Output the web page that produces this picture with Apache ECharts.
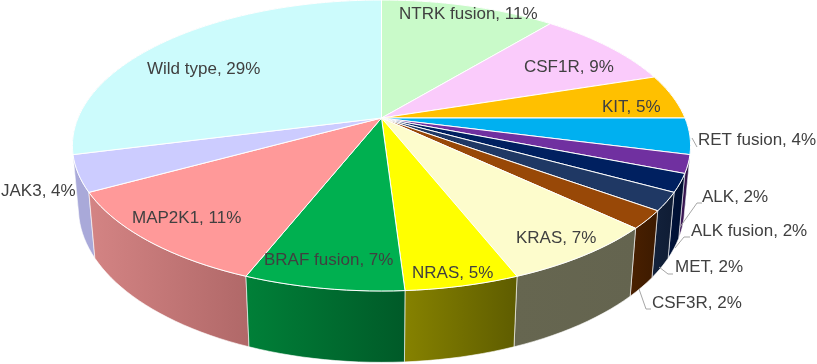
<!DOCTYPE html>
<html>
<head>
<meta charset="utf-8">
<script src="https://cdn.jsdelivr.net/npm/echarts@6/dist/echarts.min.js"></script>
<style>
    html,body{margin:0;padding:0;background:#fff;}
    #chart{width:817px;height:364px;}
</style>
</head>
<body>
<div id="chart"></div>
<script>
const categories=['NTRK fusion','CSF1R','KIT','RET fusion','ALK','ALK fusion','MET','CSF3R','KRAS','NRAS','BRAF fusion','MAP2K1','JAK3','Wild type'];
const percents=[11,9,5,4,2,2,2,2,7,5,7,11,4,29];

const topColors=['#c9fac9','#facbfb','#ffc000','#00b0f0','#7030a0','#002060','#1f3864','#984807','#fdfccc','#ffff00','#00b050','#ff9999','#ccccff','#ccfbfc'];
const wallLeft=['#a0c8a0','#c8a2c8','#cc9a00','#008dc0','#431d60','#00133a','#13223c','#4a2000','#666650','#868200','#008038','#d48484','#a9a9d9','#a3c9ca'];
const wallRight=['#a0c8a0','#c8a2c8','#cc9a00','#008dc0','#2c1040','#000f30','#0f1c34','#3c1a00','#64644f','#5e5c00','#005a28','#b06868','#a9a9d9','#a3c9ca'];

// label text anchor (left x, middle y), leader line if the label sits off the slice
const labelPos=[[399,14],[524,67],[602,107],[698,140],[702,197],[691,231],[675,267],[652,303],[516,238],[412,273],[264,260],[132,218],[1,191],[147,69]];
const leaders=[null,null,null,[[692,138],[697,147]],[[680,227],[697,203],[702,203]],[[675,248],[684,237],[690,237]],[[659,267],[668,274],[673,274]],[[639,289],[646,309],[651,309]],null,null,null,null,null,null];

// perspective of the tilted disc, fitted to the reference
const cx=381.5,cy=118,rx=303.5,ry=140.3,persp=0.189;
const depth=62.5,depthW=0.019;
function project(pct,z){
    let a=pct/100*Math.PI*2;
    let u=Math.sin(a),v=-Math.cos(a);
    let w=1-persp*v+depthW*z;
    return [cx+rx*u/w,cy+(ry*v+depth*z)/w];
}
function arc(from,to,z){
    let pts=[];
    let n=Math.max(2,Math.ceil((to-from)*2));
    for(let i=0;i<=n;i++){
        pts.push(project(from+(to-from)*i/n,z));
    }
    return pts;
}

let sum=0;
const sliceData=percents.map(function(p){
    let s=sum;
    sum+=p;
    return [s,sum];
});

function renderWall(params,api){
    let i=params.dataIndex,s=api.value(0),e=api.value(1);
    let mid=(s+e)/2/100*Math.PI*2;
    return {
        type:'polygon',
        z2:Math.round(100-Math.cos(mid)*100), // front walls over back walls
        shape:{points:arc(s,e,0).concat(arc(s,e,1).reverse())},
        style:{
            fill:new echarts.graphic.LinearGradient(0,0,1,0,[
                {offset:0,color:wallLeft[i]},
                {offset:1,color:wallRight[i]}
            ]),
            stroke:'rgba(255,255,255,0.6)',
            lineWidth:1
        }
    };
}
function renderTop(params,api){
    let s=api.value(0),e=api.value(1);
    return {
        type:'polygon',
        shape:{points:[[cx,cy]].concat(arc(s,e,0))},
        style:{fill:topColors[params.dataIndex],stroke:'#fff',lineWidth:1}
    };
}
function renderLabel(params,api){
    let i=params.dataIndex;
    let children=[{
        type:'text',
        x:labelPos[i][0],
        y:labelPos[i][1],
        style:{
            text:categories[i]+', '+api.value(0)+'%',
            fill:'#404040',
            font:'17px "Liberation Sans", Arial, sans-serif',
            align:'left',
            verticalAlign:'middle'
        }
    }];
    if(leaders[i]){
        children.unshift({
            type:'polyline',
            shape:{points:leaders[i]},
            style:{fill:null,stroke:'#a6a6a6',lineWidth:1}
        });
    }
    return {type:'group',children:children};
}

let myChart=echarts.init(document.getElementById('chart'),null,{renderer:'canvas'});
myChart.setOption({
    animation:false,
    backgroundColor:'#fff',
    series:[
        {type:'custom',coordinateSystem:'none',z:1,silent:true,data:sliceData,renderItem:renderWall},
        {type:'custom',coordinateSystem:'none',z:2,silent:true,data:sliceData,renderItem:renderTop},
        {type:'custom',coordinateSystem:'none',z:3,silent:true,data:percents.map(function(p){return [p];}),renderItem:renderLabel}
    ]
});
</script>
</body>
</html>
